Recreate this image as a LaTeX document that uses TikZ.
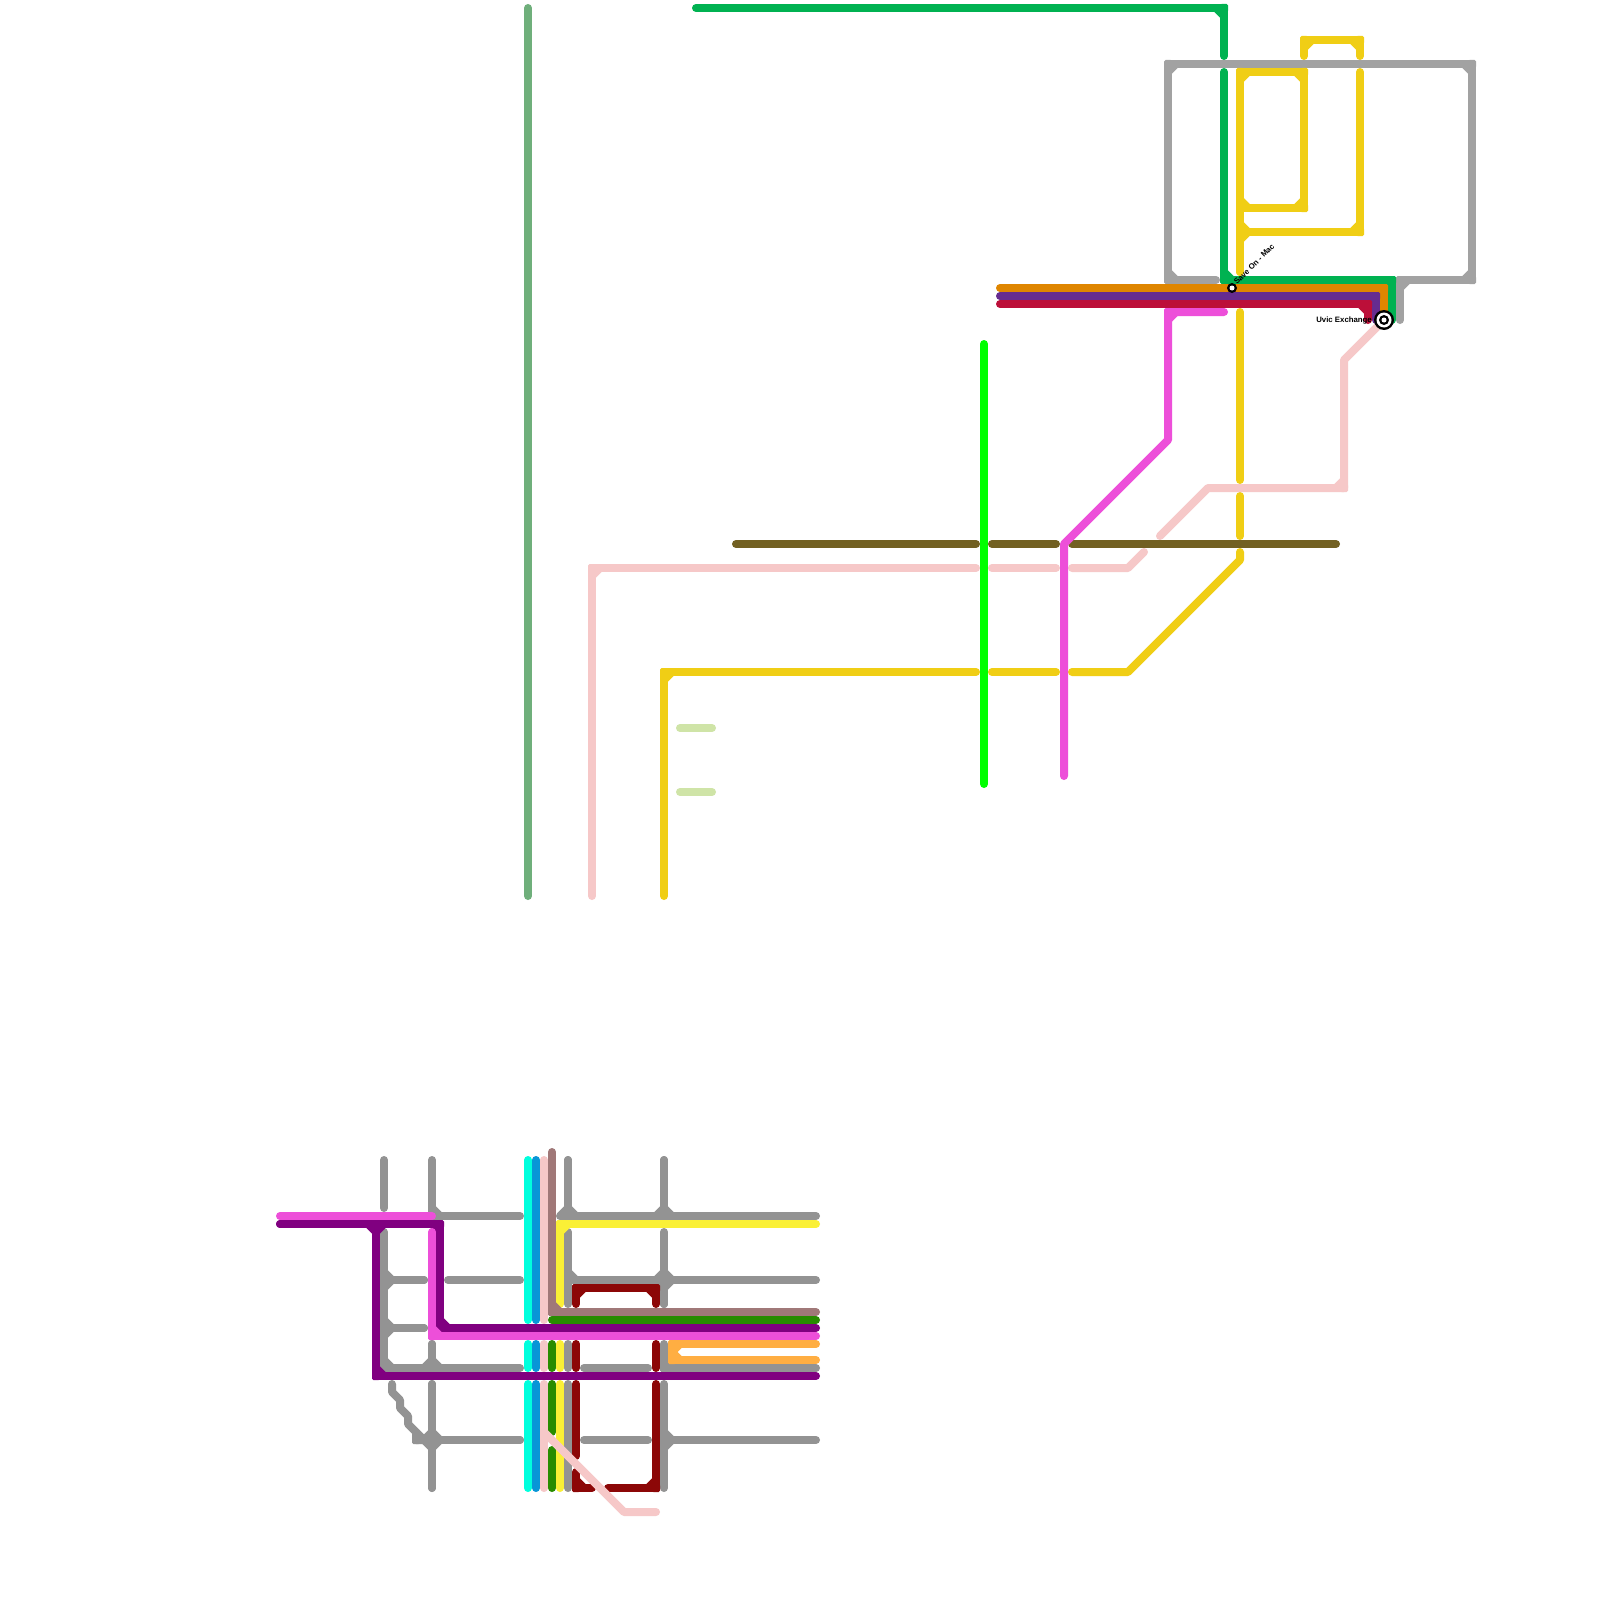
\documentclass[tikz,border=0pt]{standalone}
\usepackage{fontspec}
\setmainfont{Liberation Sans}
\usetikzlibrary{calc}
\definecolor{cGold}{HTML}{F0CE15}
\definecolor{cGreen}{HTML}{00B251}
\definecolor{cSilver}{HTML}{A2A2A2}
\definecolor{cGrey}{HTML}{939393}
\definecolor{cOrange}{HTML}{DF8600}
\definecolor{cPurple}{HTML}{662C90}
\definecolor{cCrimson}{HTML}{BC0F39}
\definecolor{cMagenta}{HTML}{ED4FD9}
\definecolor{cDeepPurple}{HTML}{800080}
\definecolor{cDarkRed}{HTML}{8C0707}
\definecolor{cRose}{HTML}{F6C8C8}
\definecolor{cBrown}{HTML}{A07878}
\definecolor{cDarkGreen}{HTML}{288C00}
\definecolor{cCyan}{HTML}{00FFDD}
\definecolor{cBlue}{HTML}{0896D7}
\definecolor{cLemon}{HTML}{FAF036}
\definecolor{cAmber}{HTML}{FFAE42}
\definecolor{cLime}{HTML}{00FF00}
\definecolor{cOlive}{HTML}{726022}
\definecolor{cSage}{HTML}{6FAF7B}
\definecolor{cPale}{HTML}{CFE4A7}
\tikzset{
  lin/.style={line width=8pt,line cap=round,line join=round},
  chm/.style={line width=8pt,line cap=butt},
  disc/.style={circle,inner sep=0pt,fill=#1},
  stlabel/.style={inner sep=0pt,font=\bfseries\fontsize{7.8}{9}\selectfont}
}
\newcommand\XX[1]{\csname XX#1\endcsname}
\newcommand\YY[1]{\csname YY#1\endcsname}
\newcommand\Ln[2]{%
  \foreach \px/\py [count=\nn] in {#2}{%
    \coordinate (p\nn) at (\px,\py);
    \expandafter\xdef\csname XX\nn\endcsname{\px}%
    \expandafter\xdef\csname YY\nn\endcsname{\py}%
    \xdef\np{\nn}}%
  \draw[lin,draw=#1] (p1) \foreach \k in {2,...,\np}{ -- (p\k)};
  \ifnum\np>2
    \pgfmathtruncatemacro\lastk{\np-1}%
    \foreach \k in {2,...,\lastk}{%
      \pgfmathtruncatemacro\ka{\k-1}%
      \pgfmathtruncatemacro\kb{\k+1}%
      \ifnum\numexpr(\XX{\k}-\XX{\ka})*(\XX{\kb}-\XX{\k})+(\YY{\k}-\YY{\ka})*(\YY{\kb}-\YY{\k})\relax=0
        \draw[chm,draw=#1] ($(p\k)!8pt!(p\ka)$) -- ($(p\k)!8pt!(p\kb)$);
        \fill[#1,rounded corners=1.5pt] ($(p\k)+(-4,-4)$) rectangle ($(p\k)+(4,4)$);
      \fi}%
  \fi}
\begin{document}
\begin{tikzpicture}[x=1pt,y=-1pt]
\useasboundingbox (0,0) rectangle (1600,1600);
\fill[white] (0,0) rectangle (1600,1600);
% --- upper network ---
\Ln{cSage}{528/8,528/896}
\Ln{cSilver}{1216/280,1168/280,1168/64,1472/64,1472/280,1400/280,1400/320}
\Ln{cGreen}{696/8,1224/8,1224/56}
\Ln{cGold}{1304/56,1304/40,1360/40,1360/56}
\Ln{cGold}{1240/272,1240/72,1304/72,1304/208,1240/208,1240/100}
\Ln{cGold}{1240/100,1240/208,1290/208}
\Ln{cGold}{1240/272,1240/232,1360/232,1360/72}
\Ln{cGold}{1240/180,1240/232,1280/232}
\Ln{cGold}{1240/312,1240/480}
\Ln{cGold}{1240/496,1240/536}
\Ln{cGold}{1240/552,1240/560,1128/672,1072/672}
\Ln{cGold}{1056/672,992/672}
\Ln{cGold}{976/672,664/672,664/896}
\Ln{cGreen}{1224/72,1224/280,1392/280,1392/320}
\Ln{cOrange}{1000/288,1384/288,1384/320}
\Ln{cPurple}{1000/296,1376/296,1376/320}
\Ln{cCrimson}{1000/304,1368/304,1368/320}
\Ln{cPale}{680/728,712/728}
\Ln{cPale}{680/792,712/792}
\Ln{cOlive}{736/544,976/544}
\Ln{cOlive}{992/544,1056/544}
\Ln{cOlive}{1072/544,1336/544}
\Ln{cRose}{592/896,592/568,976/568}
\Ln{cRose}{992/568,1056/568}
\Ln{cRose}{1072/568,1128/568,1144/552}
\Ln{cRose}{1160/536,1208/488,1344/488,1344/360,1384/320}
\Ln{cLime}{984/344,984/784}
\Ln{cMagenta}{1064/776,1064/544,1168/440,1168/312,1224/312}
% --- lower network: grey ---
\Ln{cGrey}{384/1160,384/1208}
\Ln{cGrey}{384/1232,384/1368,520/1368}
\Ln{cGrey}{384/1240,384/1280,424/1280}
\Ln{cGrey}{384/1320,384/1280,424/1280}
\Ln{cGrey}{384/1290,384/1328,424/1328}
\Ln{cGrey}{384/1360,384/1328,424/1328}
\Ln{cGrey}{432/1160,432/1216,520/1216}
\Ln{cGrey}{448/1280,520/1280}
\Ln{cGrey}{432/1344,432/1368,400/1368}
\Ln{cGrey}{432/1344,432/1368,500/1368}
\Ln{cGrey}{392/1384,392/1392,400/1400,400/1408,408/1416,408/1424,416/1432,416/1440,432/1440}
\Ln{cGrey}{432/1384,432/1440,520/1440}
\Ln{cGrey}{432/1488,432/1440,520/1440}
\Ln{cGrey}{432/1384,432/1440,416/1440}
\Ln{cGrey}{432/1488,432/1440,416/1440}
\Ln{cGrey}{568/1160,568/1216,816/1216}
\Ln{cGrey}{568/1160,568/1216,560/1216}
\Ln{cGrey}{664/1160,664/1216,700/1216}
\Ln{cGrey}{664/1160,664/1216,630/1216}
\Ln{cGrey}{568/1232,568/1304}
\Ln{cGrey}{568/1240,568/1280,816/1280}
\Ln{cGrey}{664/1232,664/1304}
\Ln{cGrey}{664/1240,664/1280,700/1280}
\Ln{cGrey}{664/1240,664/1280,630/1280}
\Ln{cGrey}{664/1304,664/1280,700/1280}
\Ln{cGrey}{664/1304,664/1280,630/1280}
\Ln{cGrey}{568/1344,568/1368}
\Ln{cGrey}{584/1368,648/1368}
\Ln{cGrey}{664/1344,664/1368,816/1368}
\Ln{cGrey}{568/1384,568/1488}
\Ln{cGrey}{584/1440,648/1440}
\Ln{cGrey}{664/1384,664/1488}
\Ln{cGrey}{664/1400,664/1440,816/1440}
\Ln{cGrey}{664/1480,664/1440,700/1440}
% --- lower network: trunks ---
\Ln{cCyan}{528/1160,528/1320}
\Ln{cCyan}{528/1344,528/1368}
\Ln{cCyan}{528/1384,528/1488}
\Ln{cBlue}{536/1160,536/1320}
\Ln{cBlue}{536/1344,536/1368}
\Ln{cBlue}{536/1384,536/1488}
\Ln{cRose}{544/1160,544/1320}
\Ln{cRose}{544/1344,544/1368}
\Ln{cLemon}{560/1304,560/1224,816/1224}
\Ln{cLemon}{560/1344,560/1368}
\Ln{cLemon}{560/1384,560/1488}
\Ln{cBrown}{552/1152,552/1312,816/1312}
\Ln{cDarkGreen}{552/1320,816/1320}
\Ln{cDarkGreen}{552/1344,552/1368}
\Ln{cDarkGreen}{552/1384,552/1432}
\Ln{cDarkGreen}{552/1450,552/1488}
\Ln{cDarkRed}{576/1304,576/1288,656/1288,656/1304}
\Ln{cDarkRed}{576/1344,576/1368}
\Ln{cDarkRed}{656/1344,656/1368}
\Ln{cDarkRed}{576/1384,576/1456}
\Ln{cDarkRed}{576/1472,576/1488,592/1488}
\Ln{cDarkRed}{608/1488,656/1488,656/1384}
\Ln{cRose}{544/1384,544/1488}
\Ln{cRose}{544/1432,624/1512,656/1512}
\Ln{cAmber}{816/1344,672/1344,672/1360,816/1360}
\Ln{cDeepPurple}{280/1224,376/1224,376/1376,816/1376}
\Ln{cDeepPurple}{280/1224,440/1224,440/1328,816/1328}
\Ln{cDeepPurple}{440/1224,376/1224,376/1240}
\Ln{cMagenta}{280/1216,432/1216}
\Ln{cMagenta}{432/1232,432/1336,816/1336}
% --- stations ---
\node[disc=black,minimum size=10pt] (saveon) at (1232,288) {};
\node[disc=white,minimum size=5pt] at (saveon.center) {};
\node[disc=black,minimum size=20pt] (uvic) at (1384,320) {};
\node[disc=white,minimum size=15pt] at (uvic.center) {};
\node[disc=black,minimum size=10pt] at (uvic.center) {};
\node[disc=white,minimum size=5pt] at (uvic.center) {};
\node[stlabel,anchor=base west,rotate=45] (saveonlabel) at (1237,285) {Save On - Mac};
\node[stlabel,anchor=east] (uviclabel) at (1372,320) {Uvic Exchange};
\end{tikzpicture}
\end{document}
